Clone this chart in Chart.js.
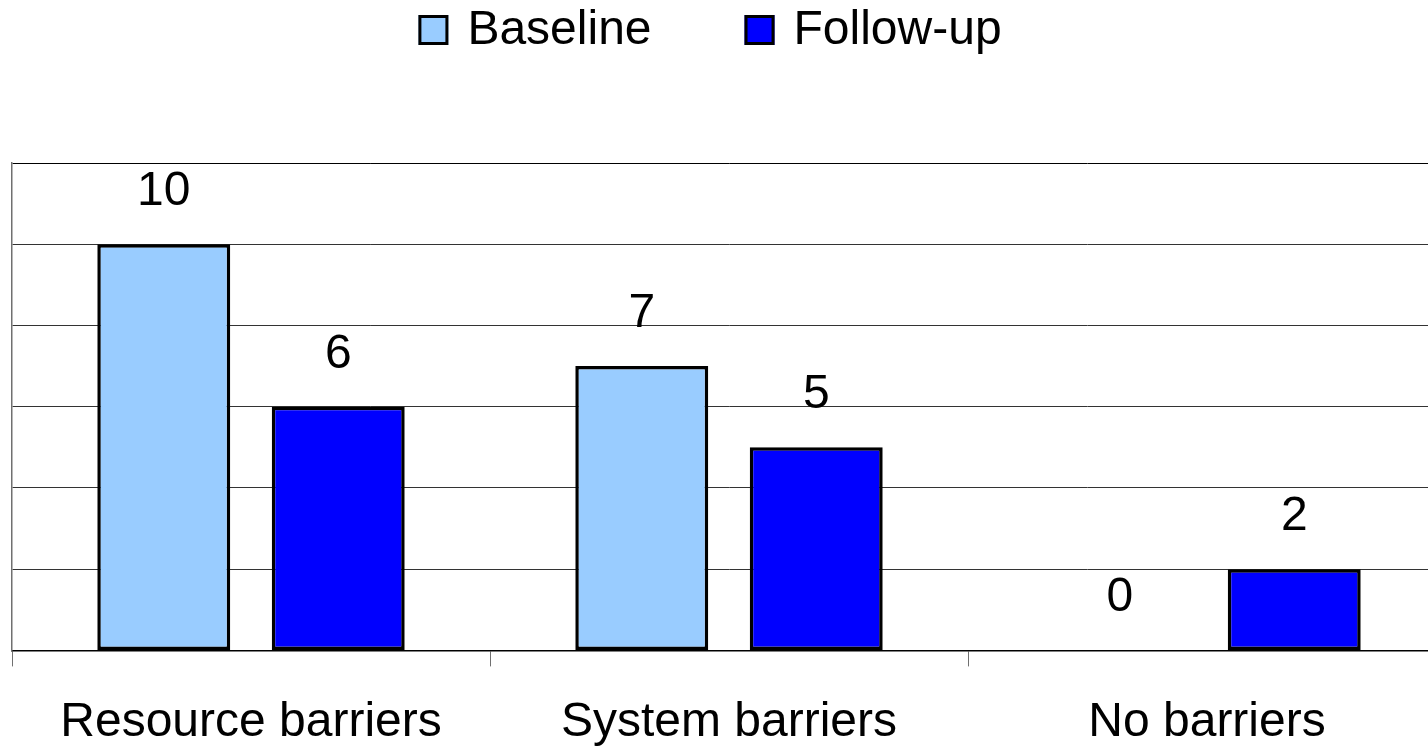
<!DOCTYPE html>
<html>
<head>
<meta charset="utf-8">
<title>Barriers: baseline vs follow-up</title>
<script src="https://cdn.jsdelivr.net/npm/chart.js@4.4.1/dist/chart.umd.min.js"></script>
<style>
  html, body { margin: 0; padding: 0; background: #fff; overflow: hidden; }
  /* plot runs a little past the window on the right and bottom, as in the original */
  #wrap { position: relative; width: 1448px; height: 780px; }
</style>
</head>
<body>
<div id="wrap"><canvas id="bars"></canvas></div>
<script>
/* global Chart */

const categories = ["Resource barriers", "System barriers", "No barriers"];
const baselineValues = [10, 7, 0];
const followUpValues = [6, 5, 2];
const seriesNames = ["Baseline", "Follow-up"];
const yMax = 12;
const yStep = 2;

const COLORS = {
  baseline: "#99CCFF",
  followUp: "#0000FF",
  border: "#000000",
  grid: "#333333",
  frame: "#707070"
};

const FONT = "'Liberation Sans', Arial, sans-serif";
const FONT_SIZE = 48;

// legend row drawn across the top, centred like the original
const topLegend = {
  id: "topLegend",
  afterDraw(chart){
    const ctx = chart.ctx;
    const box = 30, gap = 19, spacing = 93, centerX = 710, midY = 30;
    const sets = chart.data.datasets;
    ctx.save();
    ctx.font = `${FONT_SIZE}px ${FONT}`;
    const widths = sets.map(ds => box + gap + ctx.measureText(ds.label).width);
    const total = widths.reduce((s, w) => s + w, 0) + spacing * (sets.length - 1);
    let x = centerX - total / 2;
    sets.forEach((ds, i) => {
      ctx.fillStyle = ds.backgroundColor;
      ctx.fillRect(x, midY - box / 2, box, box);
      ctx.lineWidth = 3;
      ctx.strokeStyle = COLORS.border;
      ctx.strokeRect(x + 1.5, midY - box / 2 + 1.5, box - 3, box - 3);
      ctx.fillStyle = "#000";
      ctx.textAlign = "left";
      ctx.textBaseline = "middle";
      ctx.fillText(ds.label, x + box + gap, midY + 1);
      x += widths[i] + spacing;
    });
    ctx.restore();
  }
};

// value labels sit a fixed distance above each bar
const valueLabels = {
  id: "valueLabels",
  afterDatasetsDraw(chart){
    const ctx = chart.ctx;
    ctx.save();
    ctx.font = `${FONT_SIZE}px ${FONT}`;
    ctx.fillStyle = "#000";
    ctx.textAlign = "center";
    ctx.textBaseline = "alphabetic";
    chart.data.datasets.forEach((ds, di) => {
      const meta = chart.getDatasetMeta(di);
      meta.data.forEach((bar, i) => {
        ctx.fillText(String(ds.data[i]), bar.x, bar.y - 39);
      });
    });
    ctx.restore();
  }
};

function buildChart(){
  const ctx = document.getElementById("bars").getContext("2d");
  Chart.defaults.font.family = FONT;
  Chart.defaults.color = "#000";

  const barStyle = {
    borderColor: COLORS.border,
    borderWidth: 3.5,
    borderSkipped: false,
    barPercentage: 0.762,
    categoryPercentage: 0.73
  };

  return new Chart(ctx, {
    type: "bar",
    data: {
      labels: categories,
      datasets: [
        { label: seriesNames[0], data: baselineValues, backgroundColor: COLORS.baseline, ...barStyle },
        { label: seriesNames[1], data: followUpValues, backgroundColor: COLORS.followUp, ...barStyle }
      ]
    },
    options: {
      responsive: true,
      maintainAspectRatio: false,
      animation: false,
      layout: { padding: { left: 12, right: 2, top: 163, bottom: 0 } },
      plugins: {
        legend: { display: false },
        tooltip: { enabled: false }
      },
      scales: {
        x: {
          grid: {
            offset: true,
            drawOnChartArea: false,
            drawTicks: true,
            tickLength: 16,
            color: COLORS.frame
          },
          border: { color: COLORS.border, width: 1.5 },
          ticks: {
            font: { size: FONT_SIZE },
            color: "#000",
            padding: 28,
            maxRotation: 0
          }
        },
        y: {
          min: 0,
          max: yMax,
          ticks: { display: false, stepSize: yStep },
          grid: {
            drawTicks: false,
            color: (c) => c.tick && c.tick.value === yMax ? COLORS.border : COLORS.grid
          },
          border: { color: COLORS.frame, width: 1.5 }
        }
      }
    },
    plugins: [topLegend, valueLabels]
  });
}

buildChart();
</script>
</body>
</html>
